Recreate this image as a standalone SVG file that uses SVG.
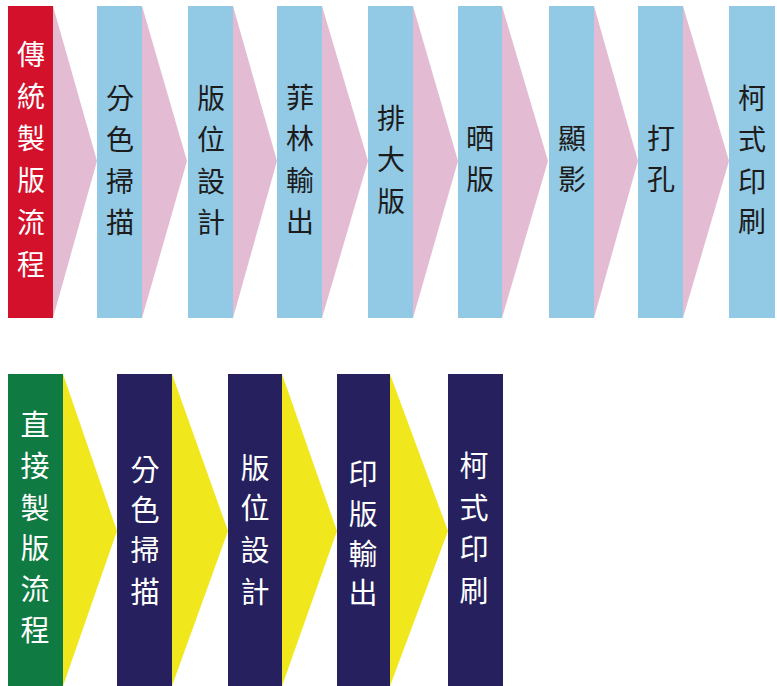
<svg xmlns="http://www.w3.org/2000/svg" width="777" height="686" viewBox="0 0 777 686">
<style>
text{font-family:"Noto Sans CJK TC","Noto Sans CJK SC",sans-serif;text-anchor:middle;dominant-baseline:central}
.t{font-size:28px}
.b{font-size:29px}
.red{fill:#d3112b}
.blue{fill:#92c9e5}
.green{fill:#0f7a42}
.navy{fill:#26215e}
.pink{fill:#e3bcd3}
.yel{fill:#f0e81c}
.w{fill:#ffffff}
.k{fill:#1c1c1c}
</style>
<rect width="777" height="686" fill="#ffffff"/>
<g id="connectors">
<polygon class="pink" points="53,6 97,161 53,318"/>
<polygon class="pink" points="142,6 187,161 142,318"/>
<polygon class="pink" points="233,6 277,161 233,318"/>
<polygon class="pink" points="322,6 368,161 322,318"/>
<polygon class="pink" points="413,6 458,161 413,318"/>
<polygon class="pink" points="502,6 548,161 502,318"/>
<polygon class="pink" points="594,6 638,161 594,318"/>
<polygon class="pink" points="683,6 729,161 683,318"/>
<polygon class="yel" points="63,374 117,531 63,686"/>
<polygon class="yel" points="172,374 228,531 172,686"/>
<polygon class="yel" points="282,374 337,531 282,686"/>
<polygon class="yel" points="390,374 448,531 390,686"/>
</g>
<g id="t0"><rect class="red" x="8" y="6" width="45" height="312"/>
<text class="t w" x="31" y="53">傳</text><text class="t w" x="31" y="95">統</text><text class="t w" x="31" y="137">製</text><text class="t w" x="31" y="179">版</text><text class="t w" x="31" y="221">流</text><text class="t w" x="31" y="263">程</text></g>
<g id="t1"><rect class="blue" x="97" y="6" width="45" height="312"/>
<text class="t k" x="120" y="97">分</text><text class="t k" x="120" y="138">色</text><text class="t k" x="120" y="180">掃</text><text class="t k" x="120" y="221">描</text></g>
<g id="t2"><rect class="blue" x="188" y="6" width="45" height="312"/>
<text class="t k" x="211" y="97">版</text><text class="t k" x="211" y="138">位</text><text class="t k" x="211" y="180">設</text><text class="t k" x="211" y="221">計</text></g>
<g id="t3"><rect class="blue" x="277" y="6" width="45" height="312"/>
<text class="t k" x="300" y="96">菲</text><text class="t k" x="300" y="137">林</text><text class="t k" x="300" y="179">輸</text><text class="t k" x="300" y="220">出</text></g>
<g id="t4"><rect class="blue" x="368" y="6" width="45" height="312"/>
<text class="t k" x="391" y="117">排</text><text class="t k" x="391" y="158">大</text><text class="t k" x="391" y="200">版</text></g>
<g id="t5"><rect class="blue" x="458" y="6" width="44" height="312"/>
<text class="t k" x="480" y="137">晒</text><text class="t k" x="480" y="178">版</text></g>
<g id="t6"><rect class="blue" x="549" y="6" width="45" height="312"/>
<text class="t k" x="572" y="137">顯</text><text class="t k" x="572" y="178">影</text></g>
<g id="t7"><rect class="blue" x="638" y="6" width="45" height="312"/>
<text class="t k" x="661" y="137">打</text><text class="t k" x="661" y="178">孔</text></g>
<g id="t8"><rect class="blue" x="729" y="6" width="46" height="312"/>
<text class="t k" x="752" y="97">柯</text><text class="t k" x="752" y="138">式</text><text class="t k" x="752" y="180">印</text><text class="t k" x="752" y="220">刷</text></g>
<g id="d0"><rect class="green" x="8" y="374" width="55" height="312"/>
<text class="b w" x="35" y="423">直</text><text class="b w" x="35" y="464">接</text><text class="b w" x="35" y="506">製</text><text class="b w" x="35" y="546">版</text><text class="b w" x="35" y="587">流</text><text class="b w" x="35" y="628">程</text></g>
<g id="d1"><rect class="navy" x="117" y="374" width="55" height="312"/>
<text class="b w" x="145" y="468">分</text><text class="b w" x="145" y="508">色</text><text class="b w" x="145" y="548">掃</text><text class="b w" x="145" y="590">描</text></g>
<g id="d2"><rect class="navy" x="228" y="374" width="54" height="312"/>
<text class="b w" x="255" y="466">版</text><text class="b w" x="255" y="506">位</text><text class="b w" x="255" y="548">設</text><text class="b w" x="255" y="590">計</text></g>
<g id="d3"><rect class="navy" x="337" y="374" width="53" height="312"/>
<text class="b w" x="363" y="472">印</text><text class="b w" x="363" y="512">版</text><text class="b w" x="363" y="552">輸</text><text class="b w" x="363" y="591">出</text></g>
<g id="d4"><rect class="navy" x="448" y="374" width="55" height="312"/>
<text class="b w" x="474" y="464">柯</text><text class="b w" x="474" y="506">式</text><text class="b w" x="474" y="547">印</text><text class="b w" x="474" y="589">刷</text></g>
</svg>
